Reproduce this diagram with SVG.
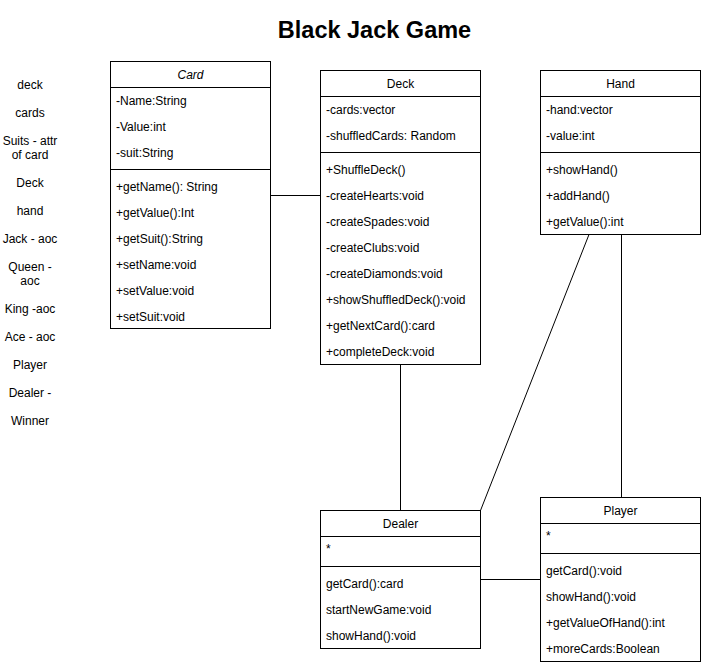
<svg xmlns="http://www.w3.org/2000/svg" width="701" height="664" viewBox="0 0 701 664">
<style>
text{font-family:"Liberation Sans",Arial,sans-serif;font-size:12px;fill:#000}
.t{font-size:23.5px;font-weight:bold}
.c{text-anchor:middle}
.box{fill:#fff;stroke:#000;stroke-width:1}
.ln{stroke:#000;stroke-width:1;fill:none}
</style>
<rect width="701" height="664" fill="#fff"/>
<text class="t c" x="374.5" y="38">Black Jack Game</text>
<g id="notes" class="c">
<text x="30" y="89">deck</text>
<text x="30" y="117">cards</text>
<text x="30" y="145">Suits - attr</text>
<text x="30" y="159">of card</text>
<text x="30" y="187">Deck</text>
<text x="30" y="215">hand</text>
<text x="30" y="243">Jack - aoc</text>
<text x="30" y="271">Queen -</text>
<text x="30" y="285">aoc</text>
<text x="30" y="313">King -aoc</text>
<text x="30" y="341">Ace - aoc</text>
<text x="30" y="369">Player</text>
<text x="30" y="397">Dealer -</text>
<text x="30" y="425">Winner</text>
</g>
<g id="connectors" class="ln">
<line x1="270.5" y1="195.5" x2="320.5" y2="195.5"/>
<line x1="400.5" y1="364.5" x2="400.5" y2="510.5"/>
<line x1="589" y1="234.5" x2="480.5" y2="510.5"/>
<line x1="621.5" y1="234.5" x2="621.5" y2="497.5"/>
<line x1="480.5" y1="579.5" x2="540.5" y2="579.5"/>
</g>
<g id="card">
<rect class="box" x="110.5" y="61.5" width="160" height="267"/>
<line class="ln" x1="110.5" y1="87.5" x2="270.5" y2="87.5"/>
<line class="ln" x1="110.5" y1="169.5" x2="270.5" y2="169.5"/>
<text class="c" x="190.5" y="79" font-style="italic">Card</text>
<text x="116" y="105">-Name:String</text>
<text x="116" y="131">-Value:int</text>
<text x="116" y="157">-suit:String</text>
<text x="116" y="191">+getName(): String</text>
<text x="116" y="217">+getValue():Int</text>
<text x="116" y="243">+getSuit():String</text>
<text x="116" y="269">+setName:void</text>
<text x="116" y="295">+setValue:void</text>
<text x="116" y="321">+setSuit:void</text>
</g>
<g id="deck">
<rect class="box" x="320.5" y="70.5" width="160" height="294"/>
<line class="ln" x1="320.5" y1="96.5" x2="480.5" y2="96.5"/>
<line class="ln" x1="320.5" y1="152.5" x2="480.5" y2="152.5"/>
<text class="c" x="400.5" y="88">Deck</text>
<text x="326" y="114">-cards:vector</text>
<text x="326" y="140">-shuffledCards: Random</text>
<text x="326" y="174">+ShuffleDeck()</text>
<text x="326" y="200">-createHearts:void</text>
<text x="326" y="226">-createSpades:void</text>
<text x="326" y="252">-createClubs:void</text>
<text x="326" y="278">-createDiamonds:void</text>
<text x="326" y="304">+showShuffledDeck():void</text>
<text x="326" y="330">+getNextCard():card</text>
<text x="326" y="356">+completeDeck:void</text>
</g>
<g id="hand">
<rect class="box" x="540.5" y="70.5" width="160" height="164"/>
<line class="ln" x1="540.5" y1="96.5" x2="700.5" y2="96.5"/>
<line class="ln" x1="540.5" y1="152.5" x2="700.5" y2="152.5"/>
<text class="c" x="620.5" y="88">Hand</text>
<text x="546" y="114">-hand:vector</text>
<text x="546" y="140">-value:int</text>
<text x="546" y="174">+showHand()</text>
<text x="546" y="200">+addHand()</text>
<text x="546" y="226">+getValue():int</text>
</g>
<g id="dealer">
<rect class="box" x="320.5" y="510.5" width="160" height="138"/>
<line class="ln" x1="320.5" y1="536.5" x2="480.5" y2="536.5"/>
<line class="ln" x1="320.5" y1="566.5" x2="480.5" y2="566.5"/>
<text class="c" x="400.5" y="528">Dealer</text>
<text x="326" y="553">*</text>
<text x="326" y="588">getCard():card</text>
<text x="326" y="614">startNewGame:void</text>
<text x="326" y="640">showHand():void</text>
</g>
<g id="player">
<rect class="box" x="540.5" y="497.5" width="160" height="164"/>
<line class="ln" x1="540.5" y1="523.5" x2="700.5" y2="523.5"/>
<line class="ln" x1="540.5" y1="553.5" x2="700.5" y2="553.5"/>
<text class="c" x="620.5" y="515">Player</text>
<text x="546" y="540">*</text>
<text x="546" y="575">getCard():void</text>
<text x="546" y="601">showHand():void</text>
<text x="546" y="627">+getValueOfHand():int</text>
<text x="546" y="653">+moreCards:Boolean</text>
</g>
</svg>
